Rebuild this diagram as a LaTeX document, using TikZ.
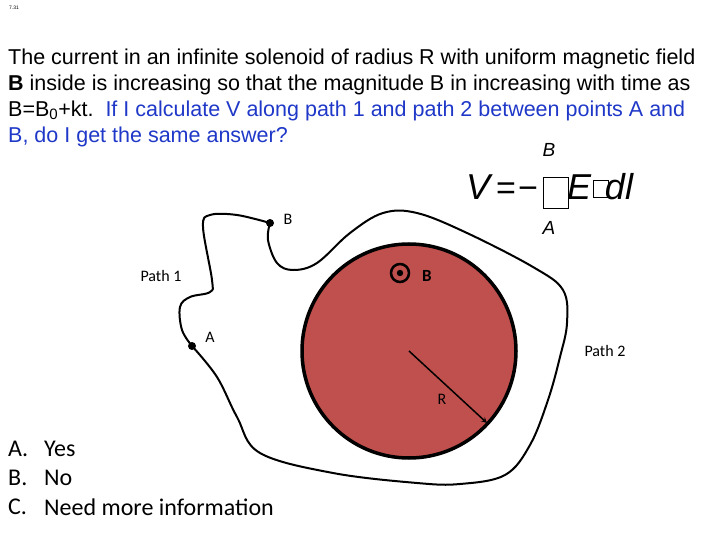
\documentclass[tikz,border=0pt]{standalone}
\usepackage{fontspec}
\setmainfont{Liberation Sans}
\newfontfamily\calfont{Carlito}
\begin{document}
\begin{tikzpicture}[x=1pt,y=-1pt,
  ttl/.style={anchor=west,inner sep=0,font=\fontsize{21.5}{24}\selectfont},
  lbl/.style={inner sep=0,font=\calfont\fontsize{16}{18}\selectfont},
  ans/.style={anchor=west,inner sep=0,font=\calfont\fontsize{24}{26}\selectfont},
  frm/.style={inner sep=0,anchor=base,font=\itshape\fontsize{36}{38}\selectfont},
  frmu/.style={inner sep=0,anchor=base,font=\fontsize{34}{36}\selectfont},
  lim/.style={inner sep=0,font=\itshape\fontsize{19}{21}\selectfont},
  pt/.style={circle,fill=black,inner sep=0,minimum size=8pt}]
\useasboundingbox (0,0) rectangle (720,540);
\definecolor{blu}{RGB}{31,56,200}
\definecolor{sol}{RGB}{192,80,77}
\node[inner sep=0,font=\fontsize{5}{6}\selectfont] (num) at (14,8) {7.31};
\node[ttl] (l1) at (8,59) {The current in an infinite solenoid of radius R with uniform magnetic field};
\node[ttl] (l2) at (8,85) {\textbf{B} inside is increasing so that the magnitude B in increasing with time as};
\node[ttl] (l3) at (8,111) {B=B\textsubscript{0}+kt.\ \ \textcolor{blu}{If I calculate V along path 1 and path 2 between points A and}};
\node[ttl,text=blu] (l4) at (8,137) {B, do I get the same answer?};
% formula
\node[frm] (fv) at (478,200) {V};
\node[frmu] (feq) at (506,200) {=};
\node[frmu] (fmin) at (528,200) {−};
\draw[thin] (543,177) rectangle (568,208);
\node[frm] (fe) at (579,200) {E};
\draw[thin] (593,180) rectangle (608,197);
\node[frm] (fdl) at (619,200) {dl};
\node[lim] (fb) at (549,150) {B};
\node[lim] (fa) at (549,228) {A};
% solenoid
\coordinate (c) at (409,351);
\fill[sol] (c) circle (107);
\draw[line width=3.5pt] (c) circle (107);
\coordinate (rt) at (487,423);
\draw[line width=1.5pt,-stealth] (c) -- (rt);
\node[lbl] (R) at (442,399) {R};
\draw[line width=2.5pt] (400,273) circle (9);
\fill (400,273) circle (3.2);
\node[inner sep=0,font=\calfont\bfseries\fontsize{17}{19}\selectfont] (Bf) at (427,276) {B};
% path
\coordinate (A) at (192,346);
\coordinate (B) at (270,223);
\draw[line width=2pt] plot[smooth,tension=0.6] coordinates {
 (192,346) (182,330) (180,307) (190,297) (210,292) (212,280) (203,227) (210,215) (237,215) (270,223)};
\draw[line width=2pt] plot[smooth,tension=0.6] coordinates {
 (270,223) (268,240) (277,263) (293,270) (317,263) (350,233) (383,213) (417,213) (467,233) (533,267) (563,290) (567,323) (560,357) (548,400) (530,445) (505,475) (460,484) (417,483) (333,473) (260,453) (237,417) (217,377) (192,346)};
\node[pt] (pa) at (A) {};
\node[pt] (pb) at (B) {};
\node[lbl] (la) at (210,337) {A};
\node[lbl] (lb) at (288,219) {B};
\node[lbl] (p1) at (161,276) {Path 1};
\node[lbl] (p2) at (605,351) {Path 2};
\node[ans] (a1) at (8,449) {A.};
\node[ans] (a1t) at (44,449) {Yes};
\node[ans] (a2) at (8,478) {B.};
\node[ans] (a2t) at (44,478) {No};
\node[ans] (a3) at (8,507) {C.};
\node[ans] (a3t) at (44,507) {Need more information};
\end{tikzpicture}
\end{document}
